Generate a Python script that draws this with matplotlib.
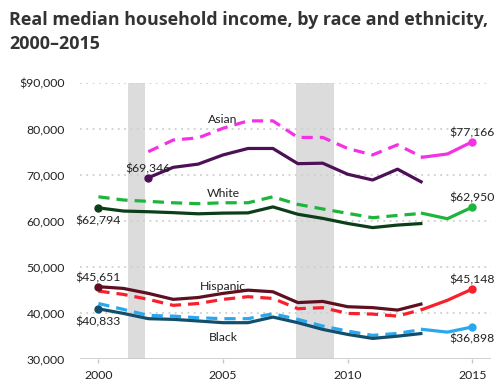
import matplotlib
matplotlib.use("Agg")
import matplotlib.pyplot as plt

# ---- data ----
years = list(range(2000, 2016))
old_years = list(range(2000, 2014))
asian_old_years = list(range(2002, 2014))
asian_new_years = list(range(2002, 2016))

asian_old = [69346, 71600, 72300, 74300, 75700, 75700, 72400, 72500, 70100, 68850, 71200, 68300]
asian_new = [75000, 77540, 78000, 80100, 81700, 81700, 78100, 78100, 75700, 74300, 76500, 73800, 74500, 77166]
white_old = [62794, 62100, 61950, 61750, 61500, 61650, 61700, 63000, 61400, 60500, 59400, 58500, 59050, 59400]
white_new = [65200, 64500, 64200, 63900, 63700, 63900, 63900, 65200, 63550, 62550, 61600, 60650, 61150, 61600, 60430, 62950]
hisp_old = [45651, 45280, 44200, 42900, 43300, 44200, 44900, 44550, 42200, 42450, 41300, 41100, 40570, 41950]
hisp_new = [44700, 43980, 42900, 41600, 42000, 42900, 43480, 43100, 40870, 41090, 39850, 39700, 39260, 40720, 42700, 45148]
black_old = [40833, 39850, 38700, 38550, 38200, 37830, 37830, 39050, 37830, 36370, 35280, 34410, 34900, 35500]
black_new = [42000, 40720, 39410, 39260, 38900, 38700, 38700, 39780, 38550, 37100, 36000, 35070, 35500, 36370, 35780, 36898]

recessions = [(2001.17, 2001.88), (2007.92, 2009.47)]
yticks = [30000, 40000, 50000, 60000, 70000, 80000, 90000]
ytick_labels = ["30,000", "40,000", "50,000", "60,000", "70,000", "80,000", "$90,000"]
xticks = [2000, 2005, 2010, 2015]

FONT = "Lato"
TFONT = "Open Sans"
TXT = "#222222"

fig = plt.figure(figsize=(5.04, 3.89), dpi=100)
ax = fig.add_axes([80/504, 1-358.7/389, (491-80)/504, (358.7-82.7)/389])
ax.set_xlim(1999.26, 2015.75)
ax.set_ylim(30000, 90000)

for a, b in recessions:
    ax.axvspan(a, b, color="#dcdcdc", lw=0, zorder=0)

for yv in yticks[1:]:
    ax.axhline(yv, color="#cfcfcf", lw=1.3, ls=(0, (1, 2.5)), zorder=1)
ax.axhline(30000, color="#c8c8c8", lw=1.2, zorder=1)

for s in ax.spines.values():
    s.set_visible(False)

ax.set_yticks(yticks)
ax.set_yticklabels(ytick_labels, fontfamily=FONT, fontsize=8.8, color=TXT)
ax.tick_params(axis="y", length=0, pad=11)
ax.set_xticks(xticks)
ax.set_xticklabels([str(x) for x in xticks], fontfamily=FONT, fontsize=8.8, color=TXT)
ax.tick_params(axis="x", length=3, color="#c8c8c8", width=1, pad=5)

series = [
    (asian_old_years, asian_old, asian_new_years, asian_new, "#4d0f55", "#f531e6"),
    (old_years, white_old, years, white_new, "#0c3f19", "#1db53c"),
    (old_years, hisp_old, years, hisp_new, "#5e1020", "#f7202c"),
    (old_years, black_old, years, black_new, "#124e6d", "#2aa8ee"),
]
lw = 2.3
for oy, ov, ny, nv, dark, bright in series:
    ax.plot(oy, ov, color=dark, lw=lw, zorder=4, solid_capstyle="butt")
    ax.plot(oy[0], ov[0], "o", color=dark, ms=5, zorder=5, clip_on=False)
    i13 = ny.index(2013)
    ax.plot(ny[:i13+1], nv[:i13+1], color=bright, lw=lw, ls=(0, (3.5, 2.2)), zorder=3)
    ax.plot(ny[i13:], nv[i13:], color=bright, lw=lw, zorder=3)
    ax.plot(ny[-1], nv[-1], "o", color=bright, ms=5, zorder=5, clip_on=False)

def money(v):
    return "${:,}".format(v)

def lab(x, y, text, dy):
    ax.annotate(text, (x, y), xytext=(0, dy), textcoords="offset pixels",
                ha="center", va="center", fontfamily=FONT, fontsize=8.8,
                color=TXT, zorder=6)

lab(asian_old_years[0], asian_old[0], money(asian_old[0]), 9)
lab(old_years[0], white_old[0], money(white_old[0]), -13)
lab(old_years[0], hisp_old[0], money(hisp_old[0]), 9)
lab(old_years[0], black_old[0], money(black_old[0]), -13)
lab(asian_new_years[-1], asian_new[-1], money(asian_new[-1]), 9)
lab(years[-1], white_new[-1], money(white_new[-1]), 9)
lab(years[-1], hisp_new[-1], money(hisp_new[-1]), 9)
lab(years[-1], black_new[-1], money(black_new[-1]), -12)

names = [("Asian", 82100), ("White", 66000), ("Hispanic", 45800), ("Black", 34700)]
for n, yv in names:
    ax.text(2005, yv, n, ha="center", va="center", fontfamily=FONT,
            fontsize=8.8, color=TXT, zorder=6)

fig.text(9/504, 1-25/389, "Real median household income, by race and ethnicity,",
         fontfamily=TFONT, fontweight="bold", fontsize=12.9, color="#333333",
         va="baseline", ha="left")
fig.text(9/504, 1-49/389, "2000\u20132015",
         fontfamily=TFONT, fontweight="bold", fontsize=12.9, color="#333333",
         va="baseline", ha="left")

fig.savefig("out.png", dpi=100)
